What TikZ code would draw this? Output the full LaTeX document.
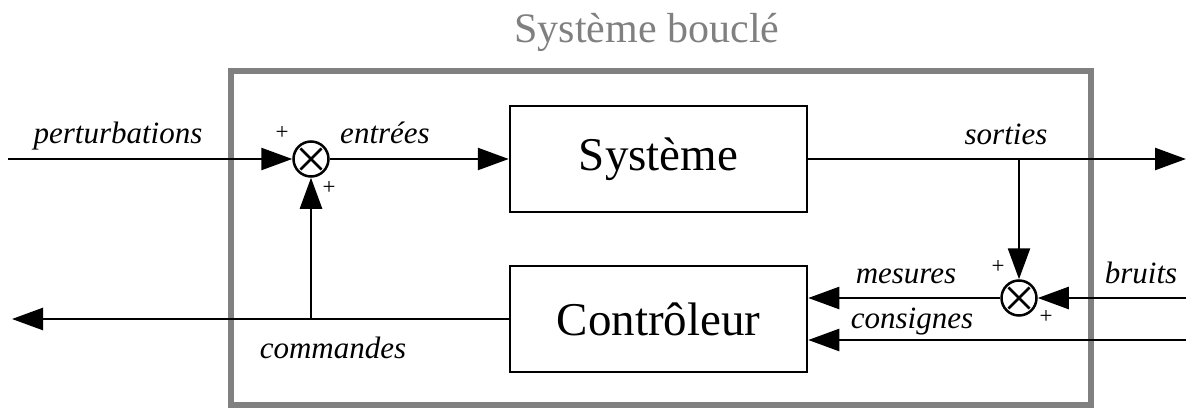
\documentclass[tikz,border=0pt]{standalone}
\usepackage{fontspec}
\setmainfont{Liberation Serif}
\usetikzlibrary{arrows.meta,calc}
\definecolor{framegray}{RGB}{128,128,128}
\tikzset{
  blockbox/.style={draw=black, line width=2.5pt, minimum width=297pt, minimum height=106pt, inner sep=0pt, font=\fontsize{47}{50}\selectfont},
  sumnode/.style={draw=black, circle, line width=2.5pt, minimum size=35pt, inner sep=0pt},
  wire/.style={line width=2.5pt},
  flow/.style={wire, -{Triangle[length=31pt, width=22pt]}},
  sig/.style={anchor=base, font=\fontsize{31}{33}\selectfont\itshape, inner sep=0pt},
  sign/.style={anchor=center, font=\fontsize{23}{25}\selectfont, inner sep=0pt},
}
\begin{document}
\begin{tikzpicture}[x=1pt, y=-1pt]
\useasboundingbox (0,0) rectangle (1186,409);

% enclosing frame of the closed-loop system and its title
\draw[framegray, line width=6pt] (231,71) rectangle (1091,405);
\node[anchor=base, text=framegray, inner sep=0pt, font=\fontsize{42}{45}\selectfont] (title) at (647,43) {Système bouclé};

% blocks
\node[blockbox] (sys) at (658.5,159) {Système};
\node[blockbox] (ctl) at (658.5,319) {Contrôleur};

% summing junctions
\node[sumnode] (s1) at (311,159) {};
\node[sumnode] (s2) at (1019,298) {};
\foreach \s in {s1,s2}{
  \draw[wire] ($(\s.center)+(45:15pt)$) -- ($(\s.center)+(225:15pt)$);
  \draw[wire] ($(\s.center)+(135:15pt)$) -- ($(\s.center)+(315:15pt)$);
}

% free ends and branch points
\coordinate (pin) at (8,159);
\coordinate (yout) at (1186,159);
\coordinate (tap) at (1019,159);
\coordinate (nin) at (1186,298);
\coordinate (refin) at (1186,340);
\coordinate (uout) at (12,319);
\coordinate (ujoin) at (311,319);

% connectors
\draw[flow] (pin) -- (s1.west);
\draw[flow] (s1.east) -- (sys.west);
\draw[flow] (sys.east) -- (yout);
\draw[flow] (tap) -- (s2.north);
\draw[flow] (nin) -- (s2.east);
\draw[flow] (s2.west) -- (s2.west -| ctl.east);
\draw[flow] (refin) -- (refin -| ctl.east);
\draw[flow] (ctl.west) -- (uout);
\draw[flow] (ujoin) -- (s1.south);

% signal labels
\node[sig] (lpert) at (118,143) {perturbations};
\node[sig] (lin) at (385,143) {entrées};
\node[sig] (lout) at (1006,145) {sorties};
\node[sig] (lmes) at (906,283) {mesures};
\node[sig] (lnoise) at (1141,283) {bruits};
\node[sig] (lref) at (912,328) {consignes};
\node[sig] (lcmd) at (333,358) {commandes};

% signs at the summing junctions
\node[sign] (p1) at (282,133) {+};
\node[sign] (p2) at (329,188) {+};
\node[sign] (p3) at (998,267) {+};
\node[sign] (p4) at (1046,317) {+};
\end{tikzpicture}
\end{document}
